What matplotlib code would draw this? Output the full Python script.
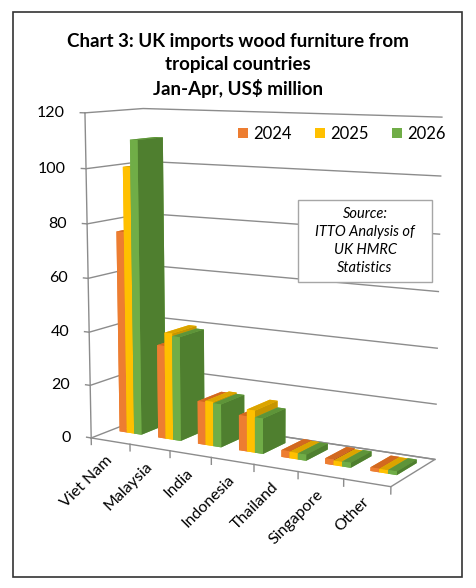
import matplotlib.pyplot as plt
from matplotlib.patches import Rectangle, Patch
from matplotlib.transforms import offset_copy
from mpl_toolkits.mplot3d import proj3d

# Jan-Apr imports, US$ million
countries = ["Viet Nam", "Malaysia", "India", "Indonesia", "Thailand", "Singapore", "Other"]
years = ["2024", "2025", "2026"]
v2024 = [76, 35, 16, 13, 2.5, 2.0, 1.3]
v2025 = [100, 40, 16.5, 15.5, 2.3, 1.6, 1.2]
v2026 = [110, 39, 16, 13, 2.2, 1.8, 1.3]
yticks = [0, 20, 40, 60, 80, 100, 120]

front = ["#ED7D31", "#FFC000", "#70AD47"]
top = ["#D2691F", "#DBA400", "#5E9439"]
side = ["#B95B1C", "#C79500", "#4F7F2F"]
grid = "#8C8C8C"

plt.rcParams["font.family"] = ["Lato", "DejaVu Sans"]

fig = plt.figure(figsize=(4.76, 5.88), dpi=100)
# view fitted to the Excel 3D perspective
ax = fig.add_axes([14.19 / 476, 2.78 / 588, 1, 1], projection="3d")
ax.set_proj_type("persp", focal_length=0.5778)
ax.view_init(elev=9.5, azim=-60.27)
ax.set_box_aspect((1.0164, 0.3084, 1), zoom=1.0056)
ax.set_xlim(0, 7)
ax.set_ylim(0, 1)
ax.set_zlim(0, 120)
ax.set_axis_off()
ax.computed_zorder = False
M = ax.get_proj()


def to2d(x, y, z):
    px, py, _ = proj3d.proj_transform(x, y, z, M)
    return px, py


n = len(countries)
# walls + gridlines
for z in yticks:
    ax.plot([0, 0, n], [0, 1, 1], [z, z, z], color=grid, lw=1, zorder=1)
    ax.plot([-0.12, 0], [0, 0], [z, z], color=grid, lw=1, zorder=1)
    px, py = to2d(0, 0, z)
    ax.text2D(px, py, str(z), ha="right", va="center", fontsize=11.5,
              transform=offset_copy(ax.transData, fig, x=-20, y=0, units="dots"))
ax.plot([0, 0], [0, 0], [0, 120], color=grid, lw=1, zorder=1)

# floor
ax.plot([0, n, n, 0], [0, 0, 1, 1], [0, 0, 0, 0], color=grid, lw=1, zorder=1)
for k in range(n + 1):
    ax.plot([k, k], [0, 0], [0, -2.5], color=grid, lw=1, zorder=1)

for i, c in enumerate(countries):
    px, py = to2d(i + 0.5, 0, 0)
    ax.text2D(px, py, c, rotation=45, ha="right", va="top", rotation_mode="anchor",
              fontsize=11.5,
              transform=offset_copy(ax.transData, fig, x=-5, y=-12, units="dots"))

# bars, far (left) to near (right)
bw = 0.19
y0, dep = 0.35, 0.45
series = [v2024, v2025, v2026]
zo = 5
for i in range(n):
    for j in range(3):
        x = i + 0.5 + (j - 1.5) * bw
        cols = [front[j], top[j], front[j], front[j], front[j], side[j]]
        ax.bar3d(x, y0, 0, bw, dep, series[j][i], color=cols,
                 shade=False, zorder=zo)
        zo += 1

handles = [Patch(facecolor=c) for c in front]
fig.legend(handles, years, loc="center", bbox_to_anchor=(342 / 476, 1 - 134 / 588),
           ncol=3, frameon=False, fontsize=12, handlelength=0.6, handleheight=0.6,
           handletextpad=0.3, columnspacing=1.4)

# source note
fig.add_artist(Rectangle((298 / 476, 1 - 282 / 588), 134 / 476, 82 / 588,
                         transform=fig.transFigure, facecolor="white",
                         edgecolor="#A6A6A6", lw=1, zorder=5))
fig.text(365 / 476, 1 - 241 / 588, "Source:\nITTO Analysis of\nUK HMRC\nStatistics",
         ha="center", va="center", style="italic", fontsize=10.5, linespacing=1.35,
         zorder=6)

fig.text(0.5, 1 - 65.5 / 588,
         "Chart 3: UK imports wood furniture from\ntropical countries\nJan-Apr, US$ million",
         ha="center", va="center", fontweight="bold", fontsize=13.5, linespacing=1.39)

# outer frame
fig.add_artist(Rectangle((13 / 476, 1 - 577 / 588), 449 / 476, 565 / 588,
                         transform=fig.transFigure, fill=False,
                         edgecolor="#333333", lw=1.2))

fig.savefig("out.png", dpi=100)
